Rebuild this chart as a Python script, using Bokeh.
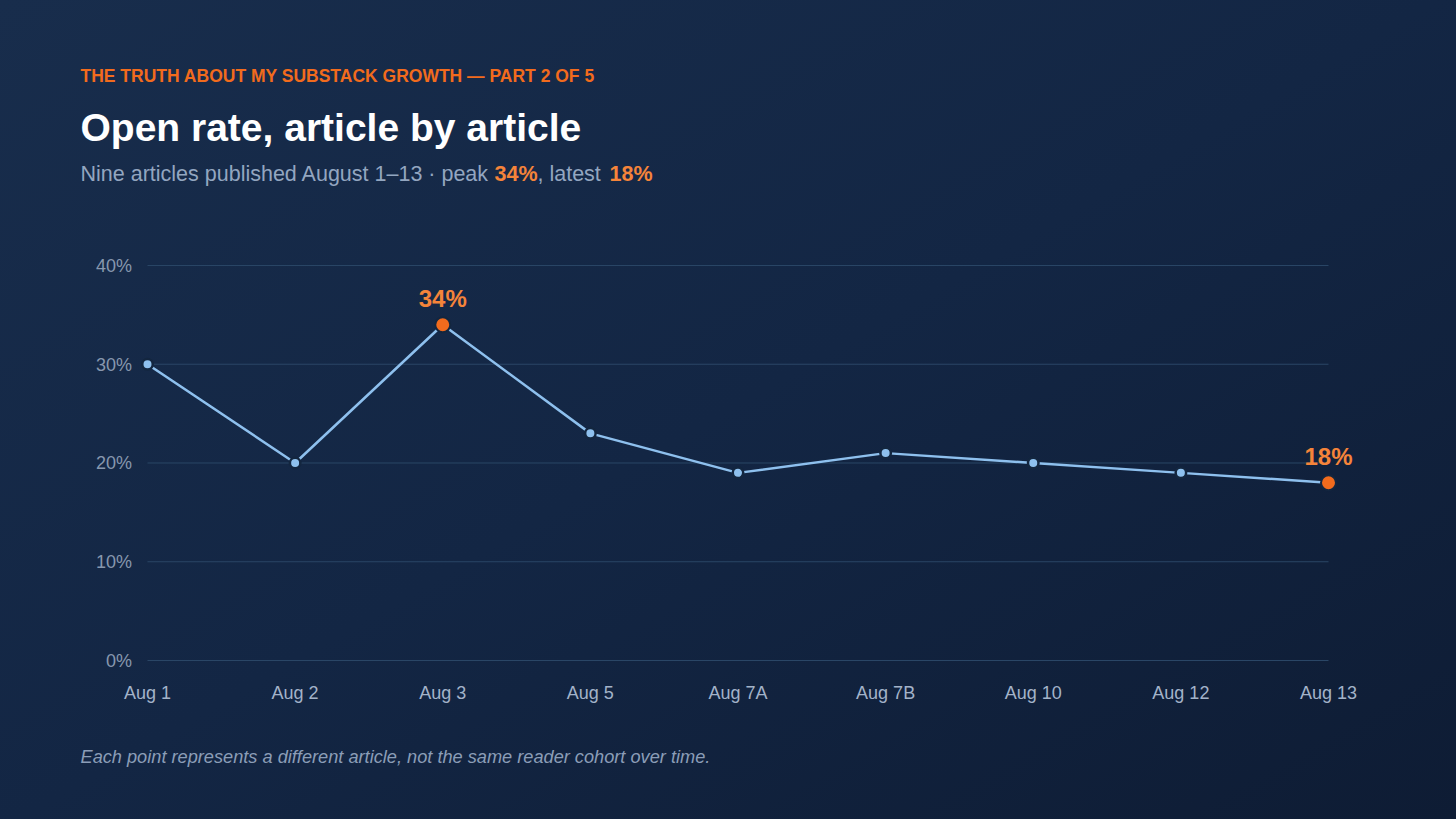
from bokeh.plotting import figure
from bokeh.models import Range1d, Label, LabelSet, ColumnDataSource
from bokeh.embed import file_html
from bokeh.resources import INLINE
from bokeh.core.properties import value

# ---- data ----
articles = ["Aug 1", "Aug 2", "Aug 3", "Aug 5", "Aug 7A", "Aug 7B", "Aug 10", "Aug 12", "Aug 13"]
open_rate = [30, 20, 34, 23, 19, 21, 20, 19, 18]
y_ticks = [0, 10, 20, 30, 40]
y_tick_labels = ["0%", "10%", "20%", "30%", "40%"]

kicker = "THE TRUTH ABOUT MY SUBSTACK GROWTH \u2014 PART 2 OF 5"
title = "Open rate, article by article"
subtitle_lead = "Nine articles published August 1\u201313 \u00b7 peak "
subtitle_mid = ", latest "
footnote = "Each point represents a different article, not the same reader cohort over time."

FONT = "Liberation Sans"
ORANGE = "#f26b1d"
ORANGE_TXT = "#f5843a"
LINE = "#8ec0ee"
DARK = "#13263f"
MUTED = "#93a6c0"
W, H = 1456, 819

idx = list(range(len(articles)))
peak_i = open_rate.index(max(open_rate))
last_i = len(open_rate) - 1
hi_idx = [peak_i, last_i]
lo_idx = [i for i in idx if i not in hi_idx]

p = figure(frame_width=W, frame_height=H,
           min_border_left=0, min_border_right=0, min_border_top=0, min_border_bottom=0,
           x_range=Range1d(-0.99577, 8.86706), y_range=Range1d(-16.101, 66.835),
           x_axis_type=None, y_axis_type=None,
           output_backend="svg", toolbar_location=None)

p.background_fill_color = None
p.border_fill_color = None
p.outline_line_color = None
p.xgrid.visible = False
p.ygrid.visible = False

# horizontal guide lines spanning the article range
p.segment(x0=[idx[0]] * len(y_ticks), x1=[idx[-1]] * len(y_ticks),
          y0=y_ticks, y1=y_ticks, line_color="#2a4666", line_width=1)

p.line(idx, open_rate, line_color=LINE, line_width=2.5)
p.scatter([idx[i] for i in lo_idx], [open_rate[i] for i in lo_idx], size=10.5,
          fill_color=LINE, line_color=DARK, line_width=2.5)
p.scatter([idx[i] for i in hi_idx], [open_rate[i] for i in hi_idx], size=15,
          fill_color=ORANGE, line_color=DARK, line_width=2)

# value labels on the highlighted points
hi_src = ColumnDataSource(dict(x=[idx[i] for i in hi_idx],
                               y=[open_rate[i] for i in hi_idx],
                               t=[f"{open_rate[i]}%" for i in hi_idx]))
p.add_layout(LabelSet(x="x", y="y", text="t", source=hi_src, y_offset=18,
                      text_align="center", text_baseline="alphabetic",
                      text_font=value(FONT), text_font_style="bold",
                      text_font_size="24px", text_color=ORANGE_TXT))

# category tick labels
x_src = ColumnDataSource(dict(x=idx, y=[y_ticks[0]] * len(idx), t=articles))
p.add_layout(LabelSet(x="x", y="y", text="t", source=x_src, y_offset=-38,
                      text_align="center", text_baseline="alphabetic",
                      text_font=value(FONT), text_font_size="18px", text_color="#a3b3c9"))

# value tick labels
y_src = ColumnDataSource(dict(x=[idx[0]] * len(y_ticks), y=y_ticks, t=y_tick_labels))
p.add_layout(LabelSet(x="x", y="y", text="t", source=y_src, x_offset=-15.5, y_offset=-6.5,
                      text_align="right", text_baseline="alphabetic",
                      text_font=value(FONT), text_font_size="18px", text_color="#8797ae"))

# titles (screen units from the bottom-left corner)
def lab(text, x, y, size, color, style="normal"):
    p.add_layout(Label(x=x, y=y, x_units="screen", y_units="screen", text=text,
                       text_font=FONT, text_font_size=size, text_color=color,
                       text_font_style=style, text_baseline="alphabetic", text_align="left"))

lab(kicker, 80, H - 75.5, "17.5px", ORANGE, "bold")
lab(title, 80, H - 127, "39px", "#ffffff", "bold")
lab(subtitle_lead, 80, H - 173.5, "21.5px", MUTED)
lab(f"{open_rate[peak_i]}%", 494, H - 173.5, "21.5px", ORANGE_TXT, "bold")
lab(subtitle_mid, 537, H - 173.5, "21.5px", MUTED)
lab(f"{open_rate[last_i]}%", 609, H - 173.5, "21.5px", ORANGE_TXT, "bold")
lab(footnote, 80, H - 756.5, "18.2px", "#8b9db7", "italic")

html = file_html(p, INLINE, title="Open rate, article by article")
html = html.replace("</head>",
    "<style>html{background:linear-gradient(150deg,#182d4c 0%,#132644 50%,#0e1c34 100%);"
    "min-height:100%;}body{background:transparent;}</style></head>", 1)
open("out.html", "w").write(html)
